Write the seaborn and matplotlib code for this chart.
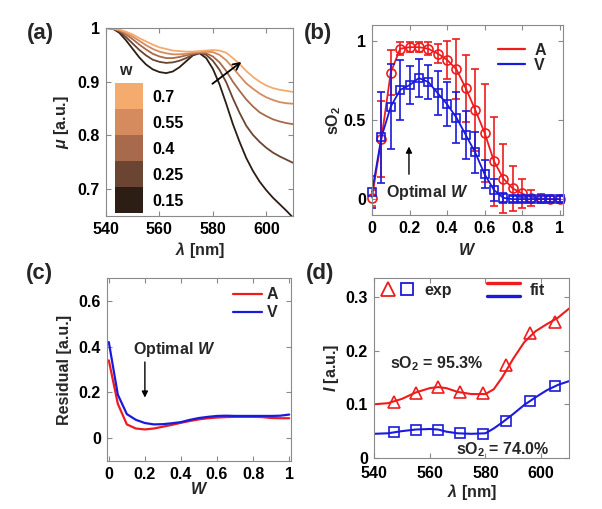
import numpy as np
import pandas as pd
import matplotlib
matplotlib.use("Agg")
import matplotlib.pyplot as plt
import seaborn as sns
from matplotlib.lines import Line2D
from matplotlib.colors import ListedColormap
from matplotlib.legend_handler import HandlerBase, HandlerTuple
from matplotlib.ticker import FuncFormatter

# ---------------- data ----------------
# (a) attenuation spectra for several w
lam_a = [540, 542.5, 545, 547.5, 550, 552.5, 555, 557.5, 560, 562.5, 565, 567.5,
         570, 572.5, 575, 577.5, 580, 582.5, 585, 587.5, 590, 592.5, 595, 597.5,
         600, 602.5, 605, 607.5, 610]
mu_015 = [1.000, 0.999, 0.991, 0.977, 0.961, 0.945, 0.932, 0.923, 0.918, 0.916, 0.919, 0.927,
          0.938, 0.949, 0.953, 0.944, 0.924, 0.895, 0.859, 0.821, 0.788, 0.758, 0.734, 0.714,
          0.698, 0.684, 0.672, 0.660, 0.647]
mu_025 = [1.000, 0.999, 0.993, 0.983, 0.971, 0.959, 0.949, 0.941, 0.937, 0.935, 0.936, 0.939,
          0.944, 0.950, 0.954, 0.950, 0.939, 0.922, 0.899, 0.869, 0.842, 0.818, 0.801, 0.788,
          0.777, 0.768, 0.761, 0.755, 0.749]
mu_040 = [1.000, 0.999, 0.995, 0.988, 0.979, 0.969, 0.960, 0.952, 0.947, 0.944, 0.944, 0.946,
          0.949, 0.952, 0.954, 0.953, 0.947, 0.936, 0.920, 0.900, 0.883, 0.867, 0.854, 0.843,
          0.836, 0.830, 0.826, 0.823, 0.821]
mu_055 = [1.000, 0.999, 0.996, 0.991, 0.984, 0.976, 0.968, 0.961, 0.956, 0.953, 0.951, 0.951,
          0.952, 0.954, 0.955, 0.956, 0.955, 0.950, 0.940, 0.926, 0.911, 0.897, 0.887, 0.878,
          0.871, 0.866, 0.862, 0.860, 0.859]
mu_070 = [1.000, 0.999, 0.997, 0.993, 0.988, 0.981, 0.975, 0.969, 0.964, 0.961, 0.958, 0.957,
          0.956, 0.956, 0.957, 0.958, 0.959, 0.958, 0.954, 0.944, 0.933, 0.920, 0.909, 0.900,
          0.893, 0.888, 0.885, 0.883, 0.881]
w_labels = ["0.7", "0.55", "0.4", "0.25", "0.15"]
w_colors = ["#F5AA6E", "#D58B5D", "#A76A4A", "#6C4532", "#2C1D15"]

# (b) sO2 vs W
W = [0, 0.05, 0.1, 0.15, 0.2, 0.25, 0.3, 0.35, 0.4, 0.45, 0.5, 0.55, 0.6, 0.65, 0.7,
     0.75, 0.8, 0.85, 0.9, 0.95, 1.0]
sA = [0.01, 0.38, 0.80, 0.95, 0.96, 0.96, 0.95, 0.92, 0.88, 0.82, 0.70, 0.565, 0.42, 0.24,
      0.13, 0.068, 0.036, 0.01, 0.005, 0.0, 0.0]
sA_err = [0.05, 0.24, 0.14, 0.04, 0.03, 0.03, 0.04, 0.06, 0.12, 0.19, 0.21, 0.26, 0.31,
          0.28, 0.22, 0.14, 0.09, 0.05, 0.03, 0.02, 0.02]
sV = [0.045, 0.39, 0.585, 0.69, 0.72, 0.765, 0.74, 0.67, 0.60, 0.515, 0.405, 0.295, 0.158,
      0.058, 0.008, 0.0, 0.0, 0.0, 0.0, 0.0, 0.0]
sV_err = [0.10, 0.29, 0.27, 0.19, 0.12, 0.12, 0.11, 0.14, 0.14, 0.16, 0.15, 0.13, 0.09,
          0.07, 0.03, 0.02, 0.02, 0.02, 0.02, 0.02, 0.02]

# (c) residual vs W
resA = [0.34, 0.15, 0.06, 0.042, 0.038, 0.042, 0.05, 0.058, 0.067, 0.075, 0.082, 0.087,
        0.09, 0.092, 0.093, 0.093, 0.093, 0.092, 0.088, 0.087, 0.087]
resV = [0.42, 0.19, 0.105, 0.08, 0.066, 0.06, 0.061, 0.065, 0.07, 0.08, 0.088, 0.093,
        0.097, 0.098, 0.097, 0.097, 0.097, 0.097, 0.097, 0.098, 0.103]

# (d) intensity spectra: experiment and fit
lam_exp = [547, 555, 563, 571, 579, 587.5, 596, 605]
I_A_exp = [0.104, 0.121, 0.132, 0.123, 0.121, 0.173, 0.232, 0.253]
I_V_exp = [0.048, 0.053, 0.053, 0.047, 0.045, 0.068, 0.106, 0.134]
lam_fit = [540, 545, 550, 555, 560, 563, 566, 570, 575, 580, 583, 586, 590, 594, 598,
           602, 606, 610]
I_A_fit = [0.100, 0.102, 0.110, 0.122, 0.130, 0.132, 0.130, 0.123, 0.119, 0.119, 0.128,
           0.150, 0.185, 0.216, 0.236, 0.249, 0.261, 0.278]
I_V_fit = [0.045, 0.046, 0.050, 0.053, 0.054, 0.053, 0.049, 0.046, 0.045, 0.046, 0.055,
           0.066, 0.082, 0.099, 0.113, 0.126, 0.136, 0.143]

RED = "#EE1C1C"
BLUE = "#1A1ADC"

# ---------------- style ----------------
sns.set_style("white")
plt.rcParams.update({
    "font.family": ["Liberation Sans", "DejaVu Sans"],
    "font.weight": "bold",
    "axes.labelweight": "bold",
    "font.size": 11.5,
    "axes.labelsize": 11.5,
    "xtick.labelsize": 11.5,
    "ytick.labelsize": 11.5,
    "mathtext.fontset": "custom",
    "mathtext.rm": "Liberation Sans:bold",
    "mathtext.it": "Liberation Sans:italic:bold",
    "mathtext.bf": "Liberation Sans:bold",
    "xtick.direction": "in", "ytick.direction": "in",
    "xtick.top": True, "ytick.right": True,
    "xtick.bottom": True, "ytick.left": True,
    "xtick.major.size": 3.5, "ytick.major.size": 3.5,
    "xtick.major.width": 0.8, "ytick.major.width": 0.8,
    "xtick.color": "#8a8a8a", "ytick.color": "#8a8a8a",
    "xtick.labelcolor": "black", "ytick.labelcolor": "black",
    "axes.edgecolor": "#8a8a8a", "axes.linewidth": 0.8,
    "xtick.major.pad": 4.0, "ytick.major.pad": 4.3,
    "legend.frameon": False,
})

fig = plt.figure(figsize=(6.02, 5.09), dpi=100)
W_PX, H_PX = 602, 509


def add_ax(l, r, t, b):
    return fig.add_axes([l / W_PX, 1 - b / H_PX, (r - l) / W_PX, (b - t) / H_PX])


fmt = FuncFormatter(lambda v, p: "%g" % round(v, 3))

axA = add_ax(106, 293, 28, 216)
axB = add_ax(372, 563, 25, 215)
axC = add_ax(107, 291, 278, 461)
axD = add_ax(374, 569, 278, 458)

# ---------------- (a) ----------------
rows = []
for lab, arr in zip(["0.15", "0.25", "0.4", "0.55", "0.7"], [mu_015, mu_025, mu_040, mu_055, mu_070]):
    for x, y in zip(lam_a, arr):
        rows.append({"lam": x, "mu": y, "w": lab})
dfa = pd.DataFrame(rows)
pal = dict(zip(w_labels, w_colors))
sns.lineplot(data=dfa, x="lam", y="mu", hue="w", palette=pal, ax=axA, legend=False,
             lw=1.3, errorbar=None)
axA.set_xlim(540, 610)
axA.set_ylim(0.65, 1.0)
axA.set_xticks([540, 560, 580, 600])
axA.set_yticks([0.7, 0.8, 0.9, 1.0])
axA.yaxis.set_major_formatter(fmt)
axA.set_xlabel(r"$\lambda$ [nm]")
axA.set_ylabel(r"$\mu$ [a.u.]")
axA.annotate("", xy=(591.5, 0.940), xytext=(579, 0.893),
             arrowprops=dict(arrowstyle="->", color="black", lw=1.3, mutation_scale=12))

# discrete colour key for w (inset heatmap)
key = axA.inset_axes([9 / 187, 3 / 188, 28 / 187, 130 / 188])
sns.heatmap(np.arange(len(w_labels)).reshape(-1, 1), cmap=ListedColormap(w_colors),
            cbar=False, ax=key, xticklabels=False, yticklabels=w_labels)
key.yaxis.tick_right()
key.tick_params(axis="both", which="both", length=0, pad=7.0, labelrotation=0,
                left=False, right=False, top=False, bottom=False,
                labelleft=False, labelright=True)
for lbl in key.get_yticklabels():
    lbl.set_fontweight("bold")
    lbl.set_fontsize(11.5)
for sp in key.spines.values():
    sp.set_visible(False)
key.set_xlabel("")
key.set_ylabel("")
key.text(0.37, 1.06, "w", transform=key.transAxes, ha="center", va="baseline",
         fontsize=11.5, fontweight="bold")

# ---------------- (b) ----------------
axB.errorbar(W, sA, yerr=sA_err, fmt="none", ecolor=RED, elinewidth=1.2, capsize=2.6,
             capthick=1.2)
sns.lineplot(x=W, y=sA, ax=axB, color=RED, lw=1.3, marker="o", markersize=6.5,
             markerfacecolor="none", markeredgecolor=RED, markeredgewidth=1.2,
             errorbar=None, clip_on=False)
axB.errorbar(W, sV, yerr=sV_err, fmt="none", ecolor=BLUE, elinewidth=1.2, capsize=2.6,
             capthick=1.2)
sns.lineplot(x=W, y=sV, ax=axB, color=BLUE, lw=1.3, marker="s", markersize=6.2,
             markerfacecolor="none", markeredgecolor=BLUE, markeredgewidth=1.2,
             errorbar=None, clip_on=False)
axB.set_xlim(0, 1.018)
axB.set_ylim(-0.1, 1.1)
axB.set_xticks([0, 0.2, 0.4, 0.6, 0.8, 1.0])
axB.set_yticks([0, 0.5, 1.0])
axB.xaxis.set_major_formatter(fmt)
axB.yaxis.set_major_formatter(fmt)
axB.set_xlabel(r"$W$")
axB.set_ylabel(r"sO$_2$")
axB.text(0.074, 0.045, r"Optimal $W$", ha="left", va="center")
axB.annotate("", xy=(0.197, 0.35), xytext=(0.197, 0.14),
             arrowprops=dict(arrowstyle="-|>", color="black", lw=1.0, mutation_scale=9))
hB = [Line2D([], [], color=RED, lw=1.6), Line2D([], [], color=BLUE, lw=1.6)]
axB.legend(hB, ["A", "V"], loc="upper right", bbox_to_anchor=(0.91, 0.905), borderpad=0,
           borderaxespad=0, labelspacing=0.0, handlelength=1.65, handletextpad=0.6)

# ---------------- (c) ----------------
sns.lineplot(x=W, y=resA, ax=axC, color=RED, lw=1.6, errorbar=None)
sns.lineplot(x=W, y=resV, ax=axC, color=BLUE, lw=1.6, errorbar=None)
axC.set_xlim(-0.01, 1.01)
axC.set_ylim(-0.1, 0.7)
axC.set_xticks([0, 0.2, 0.4, 0.6, 0.8, 1.0])
axC.set_yticks([0, 0.2, 0.4, 0.6])
axC.xaxis.set_major_formatter(fmt)
axC.yaxis.set_major_formatter(fmt)
axC.set_xlabel(r"$W$")
axC.set_ylabel("Residual [a.u.]")
axC.text(0.134, 0.387, r"Optimal $W$", ha="left", va="center")
axC.annotate("", xy=(0.2, 0.165), xytext=(0.2, 0.345),
             arrowprops=dict(arrowstyle="-|>", color="black", lw=1.0, mutation_scale=9))
hC = [Line2D([], [], color=RED, lw=1.6), Line2D([], [], color=BLUE, lw=1.6)]
axC.legend(hC, ["A", "V"], loc="upper right", bbox_to_anchor=(0.93, 0.95), borderpad=0,
           borderaxespad=0, labelspacing=0.2, handlelength=1.8, handletextpad=0.3)

# ---------------- (d) ----------------
sns.lineplot(x=lam_fit, y=I_A_fit, ax=axD, color=RED, lw=1.5, errorbar=None)
sns.lineplot(x=lam_fit, y=I_V_fit, ax=axD, color=BLUE, lw=1.5, errorbar=None)
sns.lineplot(x=lam_exp, y=I_A_exp, ax=axD, color=RED, linestyle="none", marker="^",
             markersize=8, markerfacecolor="none", markeredgecolor=RED,
             markeredgewidth=1.2, errorbar=None)
sns.lineplot(x=lam_exp, y=I_V_exp, ax=axD, color=BLUE, linestyle="none", marker="s",
             markersize=6.8, markerfacecolor="none", markeredgecolor=BLUE,
             markeredgewidth=1.2, errorbar=None)
axD.set_xlim(540, 610)
axD.set_ylim(0, 0.335)
axD.set_xticks([540, 560, 580, 600])
axD.set_yticks([0, 0.1, 0.2, 0.3])
axD.yaxis.set_major_formatter(fmt)
axD.tick_params(axis="x", pad=5.8)
axD.set_xlabel(r"$\lambda$ [nm]")
axD.set_ylabel(r"$I$ [a.u.]")
axD.text(562.5, 0.176, r"sO$_2$ = 95.3%", ha="center", va="center")
axD.text(586.1, 0.016, r"sO$_2$ = 74.0%", ha="center", va="center")


class FitHandle:
    def __init__(self, lines):
        self.lines = lines


class HandlerStacked(HandlerBase):
    def create_artists(self, legend, orig_handle, xdescent, ydescent, width, height,
                       fontsize, trans):
        arts = []
        n = len(orig_handle.lines)
        for i, h in enumerate(orig_handle.lines):
            y = -ydescent + height * (1.05 - 1.1 * i / (n - 1))
            ln = Line2D([-xdescent, -xdescent + width], [y, y], color=h.get_color(),
                        lw=h.get_linewidth(), transform=trans)
            arts.append(ln)
        return arts


tri = Line2D([], [], ls="none", marker="^", ms=10, mfc="none", mec=RED, mew=1.3)
sq = Line2D([], [], ls="none", marker="s", ms=9, mfc="none", mec=BLUE, mew=1.3)
fit_h = FitHandle([Line2D([], [], color=RED, lw=2.4), Line2D([], [], color=BLUE, lw=2.4)])
axD.legend([(tri, sq), fit_h], ["exp", "fit"], ncol=2, loc="upper left",
           bbox_to_anchor=(0.035, 0.972), borderpad=0, borderaxespad=0,
           handlelength=2.1, handletextpad=0.6, columnspacing=2.2,
           handler_map={tuple: HandlerTuple(ndivide=None, pad=0.3),
                        FitHandle: HandlerStacked()})

# label positions
axA.yaxis.set_label_coords(-0.187, 0.5)
axB.yaxis.set_label_coords(-0.152, 0.5)
axC.yaxis.set_label_coords(-0.19, 0.5)
axD.yaxis.set_label_coords(-0.169, 0.5)
axA.xaxis.set_label_coords(0.5, -0.128)
axB.xaxis.set_label_coords(0.5, -0.142)
axC.xaxis.set_label_coords(0.5, -0.109)
axD.xaxis.set_label_coords(0.5, -0.133)

for ax in (axA, axB, axC, axD):
    for sp in ax.spines.values():
        sp.set_visible(True)
        sp.set_color("#8a8a8a")
        sp.set_linewidth(0.8)

# panel labels
for lab, (x, y) in zip(["(a)", "(b)", "(c)", "(d)"], [(40, 34), (318, 33), (39, 273), (320, 273)]):
    fig.text(x / W_PX, 1 - y / H_PX, lab, ha="center", va="center", fontsize=16,
             fontweight="bold")

fig.savefig("out.png", dpi=100)
